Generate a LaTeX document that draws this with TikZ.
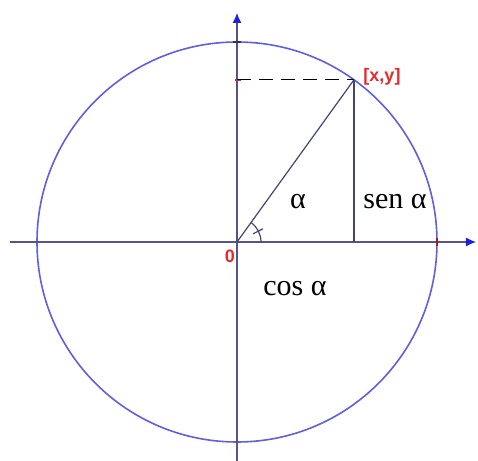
\documentclass[tikz,border=0pt]{standalone}
\usepackage{fontspec}
\setmainfont{Liberation Serif}
\setsansfont{Liberation Sans}
\usetikzlibrary{arrows.meta,positioning}
\definecolor{circblue}{RGB}{95,95,225}
\definecolor{axisgray}{RGB}{85,85,140}
\definecolor{tipblue}{RGB}{30,30,225}
\definecolor{ptred}{RGB}{235,40,40}
\tikzset{
  axis/.style={
    line width=0.6pt,
    draw=axisgray,
    -{Latex[length=5pt,width=4.5pt,color=tipblue]}
  },
  unit/.style={
    line width=0.8pt,
    draw=circblue
  },
  leg/.style={
    line width=0.6pt,
    draw=axisgray!80!black
  },
  lbl/.style={
    font=\fontsize{15}{17}\selectfont,
    inner sep=1pt
  },
  redlbl/.style={
    font=\sffamily\bfseries\fontsize{9}{10}\selectfont,
    text=ptred,
    inner sep=1pt
  },
  tickmark/.style={
    line width=0.8pt,
    draw=ptred!70!black
  }
}
\begin{document}
\begin{tikzpicture}[x=0.5pt,y=0.5pt]
        \useasboundingbox (-237,-219) rectangle (241,242);
        \coordinate (O) at (0,0);
        \coordinate (P) at (54.2:200);
        \coordinate (F) at (P |- O);
        \coordinate (Y) at (P -| O);
        \draw[unit] (O) circle (200);
        \draw[axis] (-227,0)--(239,0);
        \draw[axis] (0,-219)--(0,229);
        \draw[tickmark] (200,-4)--++(0,8);
        \draw[tickmark, draw=axisgray!60!black] (-4,200)--++(8,0);
        \draw[tickmark, draw=ptred] (-2,162)--++(6,0);
        \draw[dashed, line width=0.6pt, dash pattern=on 7pt off 4pt] (Y)--(P);
        \draw[leg] (P)--(F);
        \draw[leg] (O)--(P);
        \draw[leg] (24,0) arc (0:54.2:24);
        \draw[leg] (27:18)--++(27:11);
        \node[redlbl] (o) at (-7,-14) {0};
        \node[redlbl] (p) at (145,165) {[x,y]};
        \node[lbl] (a) at (61,40) {α};
        \node[lbl] (s) at (158,40) {sen α};
        \node[lbl] (c) at (58,-47) {cos α};
    \end{tikzpicture}
\end{document}
